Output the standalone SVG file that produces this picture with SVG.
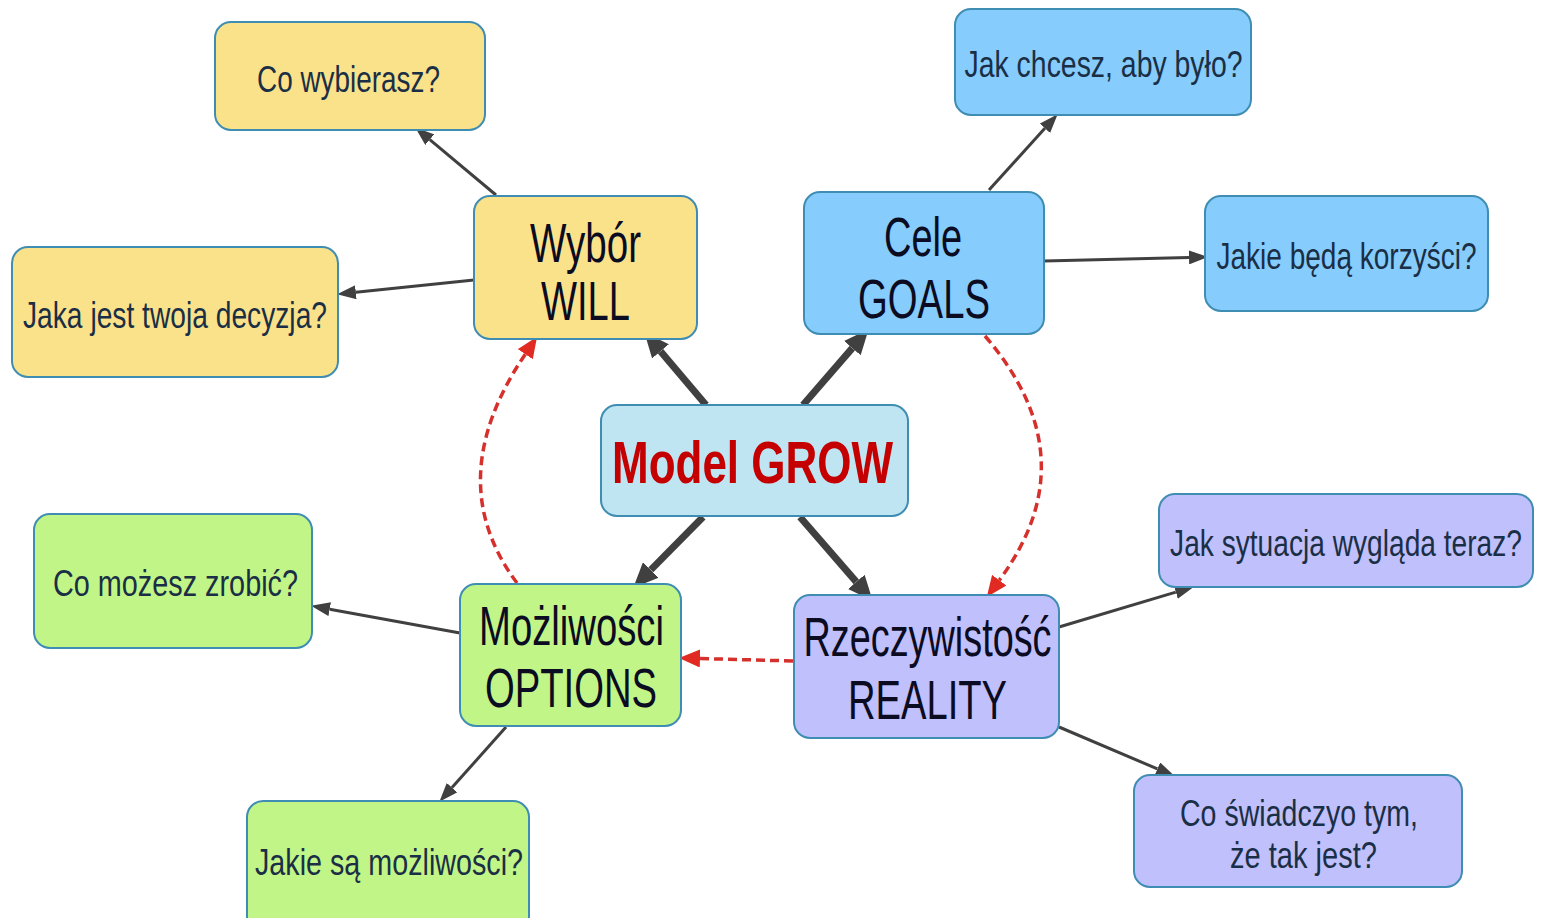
<svg xmlns="http://www.w3.org/2000/svg" width="1542" height="918" viewBox="0 0 1542 918">
<defs>
<style>
.box{stroke:#3f8db3;stroke-width:2}
.y{fill:#fae28b}.b{fill:#86ccfd}.c{fill:#bfe4f2}.g{fill:#c2f587}.p{fill:#c0c0fc}
.q{font-family:"Liberation Sans",Arial,sans-serif;font-size:37px;fill:#1a2f45;text-anchor:middle}
.m{font-family:"Liberation Sans",Arial,sans-serif;font-size:56px;fill:#0b0b22;text-anchor:middle}
.t{font-family:"Liberation Sans",Arial,sans-serif;font-size:60px;font-weight:bold;fill:#c40000;text-anchor:middle}
.thin{stroke:#404040;stroke-width:3;fill:none;marker-end:url(#ah)}
.thick{stroke:#404040;stroke-width:7;fill:none;marker-end:url(#ahb)}
.dash{stroke:#d6302c;stroke-width:3.5;fill:none;stroke-dasharray:9 5;marker-end:url(#ahr)}
</style>
<marker id="ah" markerUnits="userSpaceOnUse" markerWidth="20" markerHeight="14" refX="0" refY="7" orient="auto"><path d="M0,0 L19,7 L0,14 Z" fill="#404040"/></marker>
<marker id="ahb" markerUnits="userSpaceOnUse" markerWidth="26" markerHeight="22" refX="0" refY="11" orient="auto"><path d="M0,0 L25,11 L0,22 Z" fill="#404040"/></marker>
<marker id="ahr" markerUnits="userSpaceOnUse" markerWidth="22" markerHeight="18" refX="0" refY="9" orient="auto"><path d="M0,0 L21,9 L0,18 Z" fill="#e02a22"/></marker>
</defs>
<rect width="1542" height="918" fill="#ffffff"/>
<g id="connectors">
<line class="thin" x1="496" y1="195" x2="429.8" y2="139.6"/>
<line class="thin" x1="474" y1="280" x2="355.9" y2="292.2"/>
<line class="thick" x1="706" y1="405" x2="660.5" y2="351.3"/>
<line class="thick" x1="803" y1="405" x2="852.3" y2="348.1"/>
<line class="thin" x1="989" y1="190" x2="1044.9" y2="128.3"/>
<line class="thin" x1="1044" y1="261" x2="1189" y2="257.4"/>
<line class="thick" x1="703" y1="517" x2="650.8" y2="569.9"/>
<line class="thick" x1="800" y1="517" x2="856.3" y2="581.9"/>
<line class="thin" x1="460" y1="633" x2="329.7" y2="609.2"/>
<line class="thin" x1="506" y1="727" x2="452" y2="787.6"/>
<line class="thin" x1="1059" y1="627" x2="1175.8" y2="592.1"/>
<line class="thin" x1="1059" y1="727" x2="1157.4" y2="768.9"/>
<path class="dash" d="M517,583 Q440,480 525.3,354.2"/>
<path class="dash" d="M985,336 Q1090,458 999.3,580.2"/>
<line class="dash" x1="793" y1="661" x2="700" y2="658.5"/>
</g>
<g id="n-co-wybierasz"><rect class="box y" x="215" y="22" width="270" height="108" rx="16"/><text class="q" x="348.5" y="92" textLength="183" lengthAdjust="spacingAndGlyphs">Co wybierasz?</text></g>
<g id="n-will"><rect class="box y" x="474" y="196" width="223" height="143" rx="16"/><text class="m" x="585.5" y="262" textLength="111" lengthAdjust="spacingAndGlyphs">Wybór</text><text class="m" x="585.5" y="320" textLength="89" lengthAdjust="spacingAndGlyphs">WILL</text></g>
<g id="n-jaka-decyzja"><rect class="box y" x="12" y="247" width="326" height="130" rx="16"/><text class="q" x="175" y="328" textLength="304" lengthAdjust="spacingAndGlyphs">Jaka jest twoja decyzja?</text></g>
<g id="n-goals"><rect class="box b" x="804" y="192" width="240" height="142" rx="16"/><text class="m" x="923" y="256" textLength="78" lengthAdjust="spacingAndGlyphs">Cele</text><text class="m" x="924" y="318" textLength="132" lengthAdjust="spacingAndGlyphs">GOALS</text></g>
<g id="n-jak-chcesz"><rect class="box b" x="955" y="9" width="296" height="106" rx="16"/><text class="q" x="1103.5" y="77" textLength="278" lengthAdjust="spacingAndGlyphs">Jak chcesz, aby było?</text></g>
<g id="n-korzysci"><rect class="box b" x="1205" y="196" width="283" height="115" rx="16"/><text class="q" transform="translate(1346.5,269) scale(0.758,1)" x="0" y="0" textLength="343" lengthAdjust="spacingAndGlyphs">Jakie będą korzyści?</text></g>
<g id="n-model"><rect class="box c" x="601" y="405" width="307" height="111" rx="16"/><text class="t" x="752.5" y="483" textLength="281" lengthAdjust="spacingAndGlyphs">Model GROW</text></g>
<g id="n-co-mozesz"><rect class="box g" x="34" y="514" width="278" height="134" rx="16"/><text class="q" x="175.5" y="596" textLength="245" lengthAdjust="spacingAndGlyphs">Co możesz zrobić?</text></g>
<g id="n-options"><rect class="box g" x="460" y="584" width="221" height="142" rx="16"/><text class="m" x="571.5" y="645" textLength="185" lengthAdjust="spacingAndGlyphs">Możliwości</text><text class="m" x="571" y="707" textLength="172" lengthAdjust="spacingAndGlyphs">OPTIONS</text></g>
<g id="n-jakie-sa"><rect class="box g" x="247" y="801" width="282" height="140" rx="16"/><text class="q" x="389" y="875" textLength="268" lengthAdjust="spacingAndGlyphs">Jakie są możliwości?</text></g>
<g id="n-reality"><rect class="box p" x="794" y="595" width="265" height="143" rx="16"/><text class="m" x="927.5" y="656" textLength="248" lengthAdjust="spacingAndGlyphs">Rzeczywistość</text><text class="m" x="927.5" y="719" textLength="159" lengthAdjust="spacingAndGlyphs">REALITY</text></g>
<g id="n-jak-sytuacja"><rect class="box p" x="1159" y="494" width="374" height="93" rx="16"/><text class="q" transform="translate(1346,556) scale(0.76,1)" x="0" y="0" textLength="463" lengthAdjust="spacingAndGlyphs">Jak sytuacja wygląda teraz?</text></g>
<g id="n-co-swiadczy"><rect class="box p" x="1134" y="775" width="328" height="112" rx="16"/><text class="q" x="1299" y="826" textLength="238" lengthAdjust="spacingAndGlyphs">Co świadczyo tym,</text><text class="q" x="1303.5" y="868" textLength="147" lengthAdjust="spacingAndGlyphs">że tak jest?</text></g>
</svg>
